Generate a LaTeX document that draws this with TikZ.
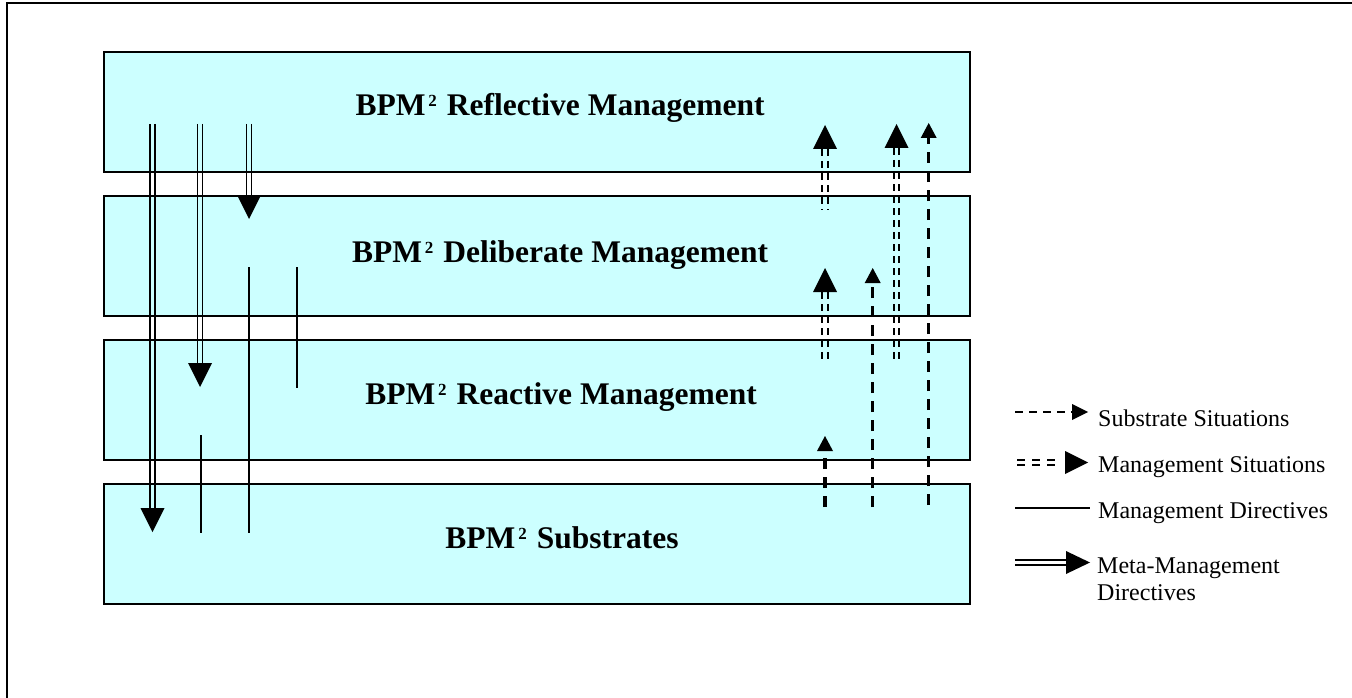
\documentclass[tikz,border=0pt]{standalone}
\usepackage{fontspec}
\setmainfont{Liberation Serif}
\definecolor{layercyan}{HTML}{CCFFFF}

% double solid shaft with a filled head pointing down: x, y start, y tip
\newcommand\metadown[3]{%
  \draw[metaline] (#1-2.5,#2) -- (#1-2.5,#3-24);
  \draw[metaline] (#1+2.5,#2) -- (#1+2.5,#3-24);
  \fill (#1,#3) -- (#1-12,#3-24) -- (#1+12,#3-24) -- cycle;}
% double dashed shaft with a filled head pointing up: x, y start, y tip
\newcommand\mgmtup[3]{%
  \draw[mgmtsit] (#1-2.6,#3+24) -- (#1-2.6,#2);
  \draw[mgmtsit] (#1+2.6,#3+24) -- (#1+2.6,#2);
  \fill (#1,#3) -- (#1-12,#3+24) -- (#1+12,#3+24) -- cycle;}
% thick dashed shaft with a small head pointing up: x, y start, y tip
\newcommand\subup[3]{%
  \draw[subsit] (#1,#2) -- (#1,#3+15);
  \fill (#1,#3) -- (#1-8,#3+15) -- (#1+8,#3+15) -- cycle;}
\newcommand\bpm[1]{BPM\kern3pt\raisebox{9pt}{\fontsize{17}{17}\selectfont 2}\kern10pt #1}

\begin{document}
\begin{tikzpicture}[x=1pt,y=-1pt,
  layer/.style={draw=black, line width=1.6pt, fill=layercyan,
    minimum width=866pt, minimum height=120pt, inner sep=0pt},
  title/.style={anchor=base, inner sep=0pt, font=\fontsize{31.5}{32}\selectfont\bfseries},
  legendtext/.style={anchor=base west, inner sep=0pt, font=\fontsize{24}{28}\selectfont},
  metaline/.style={line width=1.8pt},
  dirline/.style={line width=1.8pt},
  mgmtsit/.style={line width=2.1pt, dash pattern=on 7pt off 5pt},
  subsit/.style={line width=3.4pt, dash pattern=on 11pt off 8pt}]
\useasboundingbox (0,0) rectangle (1352,698);

% page frame
\draw[line width=2pt] (7,698) -- (7,3) -- (1352,3);

% the four layers
\node[layer] (reflective) at (537,112) {};
\node[layer] (deliberate) at (537,256) {};
\node[layer] (reactive)   at (537,400) {};
\node[layer] (substrates) at (537,544) {};

\node[title] (treflective) at (560,116)   {\bpm{Reflective Management}};
\node[title] (tdeliberate) at (560,262)   {\bpm{Deliberate Management}};
\node[title] (treactive)   at (561,404)   {\bpm{Reactive Management}};
\node[title] (tsubstrates) at (562,548.5) {\bpm{Substrates}};

% meta-management directives
\metadown{152.5}{124}{532}
\metadown{200}{124}{387}
\metadown{249}{124}{219}

% management directives
\draw[dirline] (249,267) -- (249,533);
\draw[dirline] (297,267) -- (297,388);
\draw[dirline] (201,435) -- (201,533);

% management situations
\mgmtup{825}{210}{125}
\mgmtup{825}{363}{268}
\mgmtup{896.5}{363}{124}

% substrate situations
\subup{825}{507}{436}
\subup{872.7}{507}{268}
\subup{928.7}{505}{123}

% legend
\draw[line width=1.4pt, dash pattern=on 8pt off 6pt] (1015,412) -- (1073,412);
\fill (1088,412) -- (1072,404) -- (1072,420) -- cycle;
\node[legendtext] (lsub) at (1098,426) {Substrate Situations};

\draw[line width=2.2pt, dash pattern=on 8pt off 7pt] (1017,460) -- (1060,460);
\draw[line width=2.2pt, dash pattern=on 8pt off 7pt] (1017,465) -- (1060,465);
\fill (1088,462.5) -- (1065,451) -- (1065,474) -- cycle;
\node[legendtext] (lmsit) at (1098,472) {Management Situations};

\draw[dirline] (1015,508) -- (1090,508);
\node[legendtext] (ldir) at (1098,518) {Management Directives};

\draw[metaline] (1015,560) -- (1067,560);
\draw[metaline] (1015,565) -- (1067,565);
\fill (1090,562.5) -- (1066,551) -- (1066,574) -- cycle;
\node[legendtext] (lmeta) at (1097,573) {Meta-Management};
\node[legendtext] (lmeta2) at (1097,600) {Directives};
\end{tikzpicture}
\end{document}
